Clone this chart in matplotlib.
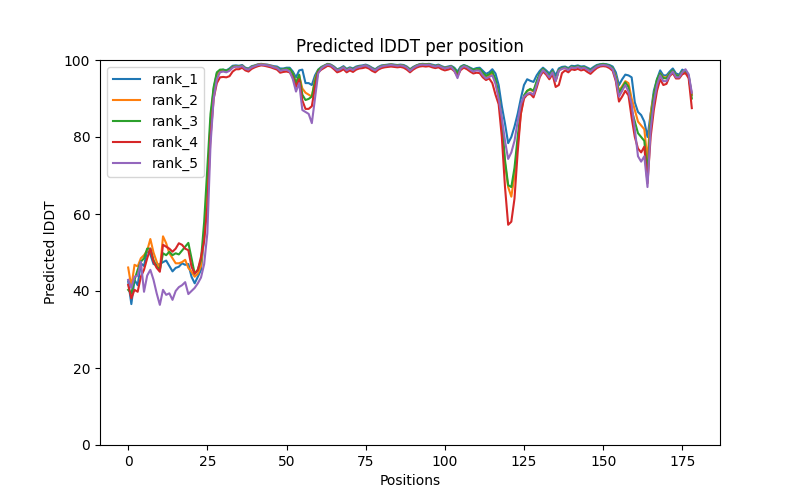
import numpy as np
import matplotlib
matplotlib.use("Agg")
import matplotlib.pyplot as plt

#predicted lDDT per residue for the five ranked models
rank_1 = [42.5, 36.6, 42.9, 41.5, 47.2, 46.5, 50.6, 49.5, 47.0, 46.8,
          47.0, 47.5, 47.9, 46.5, 45.1, 46.0, 46.3, 47.2, 46.8, 47.0,
          43.7, 42.0, 43.7, 45.5, 54.0, 66.0, 84.0, 92.5, 96.5, 97.3,
          97.5, 97.3, 97.8, 98.5, 98.6, 98.5, 98.7, 98.0, 97.8, 98.4,
          98.6, 98.9, 99.0, 98.9, 98.8, 98.6, 98.4, 98.3, 97.8, 97.8,
          98.0, 98.0, 97.0, 95.5, 97.3, 97.5, 94.0, 94.0, 93.5, 96.0,
          97.5, 98.2, 98.6, 99.0, 98.8, 98.3, 97.6, 97.9, 98.4, 97.7,
          98.1, 97.8, 98.3, 98.5, 98.6, 98.8, 98.5, 98.0, 97.6, 98.2,
          98.6, 98.7, 98.8, 98.9, 98.8, 98.7, 98.8, 98.7, 98.3, 97.6,
          98.2, 98.6, 98.9, 99.0, 98.9, 99.0, 98.8, 98.6, 98.8, 98.4,
          98.1, 98.3, 98.5, 98.0, 97.0, 98.3, 98.7, 98.4, 98.0, 97.6,
          97.9, 98.0, 97.2, 96.4, 96.8, 97.6, 96.5, 93.5, 88.0, 83.5,
          78.4, 80.0, 82.7, 86.0, 90.0, 93.5, 95.0, 94.6, 94.3, 96.0,
          97.2, 98.0, 97.3, 96.5, 97.6, 96.0, 97.8, 98.2, 98.3, 97.9,
          98.5, 98.4, 98.6, 98.3, 98.4, 98.0, 97.6, 98.2, 98.7, 98.9,
          99.0, 98.9, 98.7, 98.3, 96.8, 93.5, 95.0, 96.2, 96.0, 95.5,
          89.0, 86.5, 85.7, 84.0, 80.0, 86.0, 92.0, 95.0, 97.3, 96.0,
          96.0, 97.0, 97.8, 96.5, 96.2, 97.5, 97.0, 96.0, 91.0]

rank_2 = [46.1, 41.1, 46.8, 46.4, 48.5, 49.3, 50.5, 53.5, 50.0, 47.6,
          45.5, 54.2, 52.4, 49.8, 48.5, 47.2, 47.2, 47.5, 48.1, 46.0,
          45.0, 43.7, 44.5, 46.5, 55.0, 65.0, 83.0, 92.0, 96.0, 97.0,
          97.3, 97.0, 97.5, 98.2, 98.4, 98.3, 98.5, 97.8, 97.6, 98.2,
          98.5, 98.8, 98.9, 98.8, 98.7, 98.5, 98.2, 98.0, 97.3, 97.5,
          97.6, 97.5, 96.5, 94.0, 96.0, 92.6, 91.5, 91.0, 90.5, 95.0,
          97.3, 98.0, 98.5, 98.9, 98.7, 98.1, 97.4, 97.6, 98.2, 97.4,
          97.9, 97.5, 98.1, 98.3, 98.4, 98.6, 98.3, 97.8, 97.3, 98.0,
          98.4, 98.6, 98.7, 98.8, 98.7, 98.6, 98.7, 98.5, 98.1, 97.4,
          98.0, 98.5, 98.8, 98.9, 98.8, 98.9, 98.6, 98.4, 98.6, 98.2,
          97.9, 98.1, 98.3, 97.6, 96.2, 98.0, 98.5, 98.2, 97.7, 97.2,
          97.5, 97.4, 96.3, 95.6, 96.0, 96.5, 94.5, 90.5, 83.0, 73.0,
          67.0, 64.5, 70.0, 78.0, 86.0, 90.5, 92.0, 92.3, 91.8, 94.0,
          96.3, 97.6, 96.8, 95.6, 97.0, 94.5, 97.3, 97.8, 98.0, 97.5,
          98.2, 98.0, 98.3, 97.9, 98.1, 97.6, 97.1, 97.8, 98.4, 98.7,
          98.8, 98.7, 98.4, 97.8, 95.8, 92.0, 93.2, 94.5, 94.0, 90.0,
          87.0, 84.0, 83.0, 82.0, 74.0, 86.0, 91.0, 94.5, 96.5, 95.5,
          95.5, 96.5, 97.2, 96.0, 95.8, 97.0, 96.8, 95.6, 91.0]

rank_3 = [40.3, 39.4, 42.9, 45.5, 47.6, 48.5, 51.0, 51.0, 48.0, 46.3,
          45.5, 49.8, 49.3, 50.2, 49.3, 49.8, 49.5, 50.5, 51.5, 52.5,
          48.5, 44.5, 45.5, 48.1, 58.0, 72.0, 86.0, 93.0, 96.8, 97.5,
          97.5, 97.2, 97.6, 98.2, 98.4, 98.3, 98.5, 97.8, 97.6, 98.2,
          98.5, 98.7, 98.8, 98.7, 98.6, 98.4, 98.1, 98.0, 97.4, 97.6,
          97.8, 97.7, 96.5, 94.0, 96.2, 91.0, 89.6, 89.9, 90.5, 94.5,
          97.4, 98.0, 98.5, 98.9, 98.7, 98.1, 97.4, 97.7, 98.2, 97.5,
          97.9, 97.6, 98.1, 98.3, 98.4, 98.6, 98.3, 97.8, 97.4, 98.0,
          98.4, 98.6, 98.7, 98.8, 98.7, 98.6, 98.7, 98.5, 98.1, 97.5,
          98.0, 98.5, 98.8, 98.9, 98.8, 98.9, 98.6, 98.4, 98.6, 98.2,
          97.9, 98.1, 98.3, 97.8, 96.5, 98.1, 98.6, 98.3, 97.8, 97.4,
          97.7, 97.7, 96.7, 95.9, 96.3, 97.0, 95.0, 91.0, 84.0, 74.0,
          67.5, 67.0, 72.0, 80.0, 87.0, 90.8, 92.0, 92.5, 92.0, 94.5,
          96.5, 97.7, 96.9, 95.8, 97.1, 94.7, 97.4, 97.9, 98.1, 97.6,
          98.3, 98.1, 98.4, 98.0, 98.2, 97.7, 97.2, 97.9, 98.5, 98.8,
          98.9, 98.8, 98.5, 97.9, 95.5, 91.5, 92.8, 94.2, 93.0, 87.0,
          84.0, 81.0, 80.0, 79.0, 70.5, 84.0, 91.0, 95.0, 96.5, 95.3,
          95.2, 96.5, 97.3, 96.0, 95.8, 97.0, 97.0, 95.8, 90.0]

rank_4 = [41.6, 38.1, 40.3, 39.8, 43.7, 45.5, 48.5, 51.0, 47.6, 46.0,
          45.0, 52.0, 51.5, 51.0, 50.2, 51.0, 52.4, 52.0, 51.0, 50.6,
          46.3, 44.5, 45.5, 48.9, 53.0, 62.0, 80.0, 90.0, 94.0, 95.5,
          95.6, 95.5, 95.8, 97.0, 97.6, 97.6, 98.0, 97.3, 97.0, 97.7,
          98.1, 98.4, 98.6, 98.5, 98.3, 98.1, 97.8, 97.5, 96.7, 96.9,
          97.0, 96.8, 95.5, 93.0, 95.0, 89.5, 87.3, 87.3, 88.0, 93.0,
          96.8, 97.5, 98.0, 98.5, 98.3, 97.6, 96.8, 97.1, 97.6, 96.8,
          97.3, 96.9, 97.5, 97.8, 97.9, 98.1, 97.8, 97.2, 96.8, 97.5,
          97.9, 98.1, 98.2, 98.3, 98.2, 98.1, 98.2, 98.0, 97.5, 96.8,
          97.5, 98.0, 98.3, 98.4, 98.3, 98.4, 98.1, 97.9, 98.1, 97.6,
          97.3, 97.5, 97.8, 97.1, 95.8, 97.4, 98.0, 97.6, 97.0, 96.5,
          96.7, 96.6, 95.5, 94.8, 95.2, 94.0, 91.0, 88.5, 80.0, 67.0,
          57.2, 58.0, 64.0, 76.0, 86.0, 90.0, 91.0, 91.2, 90.3, 92.8,
          95.6, 97.0, 96.2, 95.0, 96.3, 93.0, 93.5, 96.6, 97.3, 96.8,
          97.6, 97.4, 97.7, 97.3, 97.5, 96.9, 96.4, 97.2, 97.9, 98.3,
          98.4, 98.3, 97.9, 97.2, 94.5, 89.2, 90.5, 92.0, 90.8, 85.0,
          80.0, 77.0, 76.0, 77.5, 68.0, 80.0, 87.0, 92.0, 95.0, 93.5,
          93.8, 95.8, 96.6, 95.2, 95.2, 96.3, 96.6, 95.3, 87.5]

rank_5 = [42.9, 40.8, 43.7, 44.0, 47.6, 39.8, 44.0, 45.5, 42.9, 39.4,
          36.4, 40.3, 39.0, 39.4, 37.7, 40.0, 41.0, 41.5, 42.3, 39.2,
          40.0, 40.8, 42.0, 43.5, 47.0, 55.0, 78.0, 90.0, 95.0, 96.8,
          97.0, 96.8, 97.2, 98.0, 98.3, 98.2, 98.4, 97.7, 97.5, 98.1,
          98.4, 98.7, 98.8, 98.7, 98.6, 98.4, 98.1, 97.9, 97.2, 97.4,
          97.5, 97.0, 95.0, 91.8, 94.0, 87.0, 86.5, 86.0, 83.6, 90.0,
          96.5, 97.8, 98.4, 98.8, 98.6, 98.0, 97.3, 97.6, 98.1, 97.3,
          97.8, 97.4, 98.0, 98.2, 98.4, 98.6, 98.2, 97.7, 97.3, 97.9,
          98.3, 98.5, 98.6, 98.7, 98.6, 98.5, 98.6, 98.4, 98.0, 97.2,
          97.9, 98.4, 98.7, 98.8, 98.7, 98.8, 98.5, 98.3, 98.5, 98.1,
          97.8, 98.0, 98.2, 97.2, 95.3, 97.8, 98.4, 98.1, 97.5, 97.0,
          97.3, 97.2, 96.0, 95.2, 95.6, 96.0, 93.8, 90.0, 85.0, 79.0,
          74.3, 76.0, 79.0, 84.0, 88.5, 90.5, 91.2, 91.5, 91.0, 93.5,
          96.0, 97.4, 96.6, 95.5, 96.8, 94.5, 97.2, 97.7, 97.9, 97.4,
          98.1, 97.9, 98.2, 97.8, 98.0, 97.5, 97.0, 97.7, 98.3, 98.6,
          98.7, 98.6, 98.3, 97.6, 95.0, 90.5, 92.0, 93.5, 91.8, 88.5,
          82.0, 75.0, 73.6, 75.0, 67.0, 82.0, 89.0, 93.5, 96.0, 94.5,
          94.5, 96.0, 97.0, 95.5, 95.5, 96.8, 97.6, 96.3, 91.5]

ranks = [rank_1, rank_2, rank_3, rank_4, rank_5]
labels = ["rank_1", "rank_2", "rank_3", "rank_4", "rank_5"]

def main():
    fig = plt.figure(figsize=(8, 5), dpi=100)
    for vals, name in zip(ranks, labels):
        pos = np.arange(len(vals))
        plt.plot(pos, vals, label=name)
    plt.legend(loc="upper left")
    plt.title("Predicted lDDT per position")
    plt.ylim(0, 100)
    plt.ylabel("Predicted lDDT")
    plt.xlabel("Positions")
    fig.savefig("out.png", dpi=100)

if __name__ == "__main__":
    main()
